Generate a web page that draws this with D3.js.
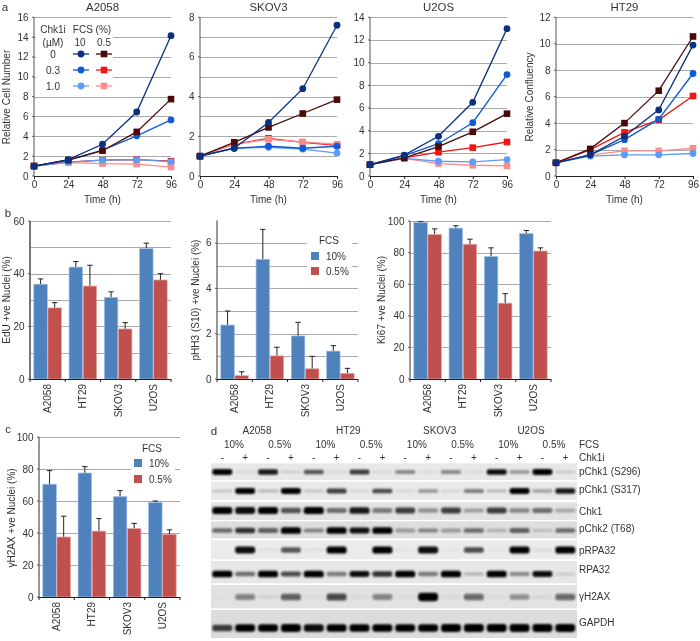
<!DOCTYPE html>
<html><head><meta charset="utf-8">
<script src="https://cdn.jsdelivr.net/npm/d3@7"></script>
<style>html,body{margin:0;padding:0;background:#fff}svg{display:block;filter:blur(0.35px)}text{font-family:"Liberation Sans",Arial,sans-serif;fill:#333}</style>
</head><body><div id="c"></div>
<script>
// ---------- growth curves ----------
const times=[0,24,48,72,96];
const seriesKeys=["red","pink","light","blue","dark","navy"];
const a2058={navy:[1,1.65,3.2,6.45,14.15],blue:[1,1.6,2.6,4.05,5.65],light:[1,1.4,1.6,1.65,1.45],dark:[1,1.6,2.55,4.45,7.75],red:[1,1.4,1.6,1.65,1.5],pink:[1,1.35,1.25,1.2,0.9]};
const skov3={navy:[1,1.4,2.7,4.4,7.6],blue:[1,1.4,1.5,1.4,1.5],light:[1,1.4,1.45,1.35,1.15],dark:[1,1.7,2.45,3.15,3.85],red:[1,1.6,1.9,1.7,1.55],pink:[1,1.6,1.85,1.72,1.6]};
const u2os={navy:[1,1.85,3.5,6.5,13],blue:[1,1.8,2.85,4.7,8.95],light:[1,1.55,1.3,1.25,1.45],dark:[1,1.6,2.6,3.9,5.5],red:[1,1.6,2.1,2.5,3],pink:[1,1.55,1.1,0.95,0.9]};
const ht29={navy:[1,1.6,3,5,9.9],blue:[1,1.6,2.75,4.3,7.75],light:[1,1.5,1.6,1.6,1.7],dark:[1,2.05,4,6.45,10.55],red:[1,2,3.3,4.25,6.05],pink:[1,1.6,1.9,1.9,2.1]};
// ---------- bars ----------
const cellLines=["A2058","HT29","SKOV3","U2OS"];
const edu10=[36,42.5,31,49.5], edu10Top=[38,44.6,33.1,51.6], edu05=[27,35.3,19,37.6], edu05Top=[29,43.2,21.4,40];
const phh10=[2.38,5.28,1.9,1.23], phh10Top=[3,6.6,2.5,1.47], phh05=[0.15,1.02,0.45,0.25], phh05Top=[0.32,1.4,1,0.47];
const ki10=[99,95.5,77.5,92], ki10Top=[99.6,97,83,94], ki05=[91.5,85.3,48,81], ki05Top=[95,88.5,54,83];
const gh10=[70.5,77.5,62.8,59], gh10Top=[79,81.5,66.5,60], gh05=[37.5,41.2,42.8,39.2], gh05Top=[50.5,49,46,42];
// ---------- blot band strengths (0-1) ----------
const blotS296=[.95,.08,.85,.1,.6,.08,.7,.08,.4,.06,.4,.06,.9,.35,1,.12];
const blotS317=[.15,.95,.2,1,.15,.7,.08,.65,.08,.35,.08,.45,.2,1,.3,.85];
const blotChk1=[1,.9,1,.6,1,.5,.85,.45,.7,.35,.7,.3,.7,.4,.5,.25];
const blotChk2=[.5,.75,.55,1,.4,1,.9,1,.3,.4,.3,.5,.2,.55,.15,.5];
const blotPRPA=[0,.9,.05,.6,.05,1,0,1,.03,.9,.03,.65,.03,.95,.08,1];
const blotRPA=[1,.5,1,.65,1,.45,.9,.75,1,.45,1,.2,1,.4,.9,.12];
const blotH2AX=[.02,.4,.06,.55,.03,.65,.04,.4,.03,.95,.04,.5,.03,.35,.05,.5];
const blotGAPDH=[.7,.95,.95,1,.9,.95,.95,.95,.95,.95,1,1,1,1,1,1];
const blotLabels=["pChk1 (S296)","pChk1 (S317)","Chk1","pChk2 (T68)","pRPA32","RPA32","γH2AX","GAPDH"];
const blotRows=[blotS296,blotS317,blotChk1,blotChk2,blotPRPA,blotRPA,blotH2AX,blotGAPDH];
const laneSigns=["-","+","-","+","-","+","-","+","-","+","-","+","-","+","-","+"];
const fcsHeads=["10%","0.5%","10%","0.5%","10%","0.5%","10%","0.5%"];

// ---------- style ----------
const colors={navy:"#0b3080",blue:"#0f5ad6",light:"#5c9cf6",dark:"#4a0a0a",red:"#f41414",pink:"#fb8c8c"};
const barBlue="#4f81bd",barRed="#c0504d",grid="#a9a9a9",FS=10;

const svg=d3.select("#c").append("svg").attr("width",700).attr("height",641);
const defs=svg.append("defs");
defs.append("filter").attr("id","b").attr("x","-30%").attr("y","-100%").attr("width","160%").attr("height","300%").append("feGaussianBlur").attr("stdDeviation",1.3);
const txt=(x,y,s,o={})=>svg.append("text").attr("x",x).attr("y",y).attr("text-anchor",o.a||"middle").attr("dominant-baseline","central").attr("font-size",o.fs||FS).text(s);
const vtxt=(x,y,s)=>svg.append("text").attr("transform",`translate(${x},${y}) rotate(-90)`).attr("text-anchor","middle").attr("dominant-baseline","central").attr("font-size",FS).text(s);

function yAxis(g,y,x0,x1,vals,labels,axisW,axisCol){
  g.selectAll("line.g").data(vals).join("line").attr("class","g").attr("x1",x0).attr("x2",x1).attr("y1",d=>Math.round(y(d))+.5).attr("y2",d=>Math.round(y(d))+.5).attr("stroke",grid);
  g.append("line").attr("x1",x0).attr("x2",x0).attr("y1",y.range()[1]).attr("y2",y.range()[0]).attr("stroke",axisCol).attr("stroke-width",axisW);
  g.selectAll("text.t").data(labels).join("text").attr("class","t").attr("x",x0-5.5).attr("y",d=>y(d)).attr("text-anchor","end").attr("dominant-baseline","central").attr("font-size",FS).text(d=>d);
  g.selectAll("line.tk").data(labels).join("line").attr("class","tk").attr("x1",x0-2).attr("x2",x0).attr("y1",d=>y(d)).attr("y2",d=>y(d)).attr("stroke","#555");
}
function marker(g,key,x,y){
  if(["navy","blue","light"].includes(key)) g.append("circle").attr("cx",x).attr("cy",y).attr("r",3.4).attr("fill",colors[key]);
  else g.append("rect").attr("x",x-3.3).attr("y",y-3.3).attr("width",6.6).attr("height",6.6).attr("fill",colors[key]);
}
function lineChart(data,title,x0,x1,ymax,step,ytitle,ytitleX){
  const g=svg.append("g");
  const x=d3.scaleLinear().domain([0,96]).range([x0,x1]);
  const y=d3.scaleLinear().domain([0,ymax]).range([176,17.3]);
  yAxis(g,y,x0,x1,d3.range(step,ymax+.01,step),d3.range(0,ymax+.01,step),1,"#555");
  const ax=g.append("g").attr("transform","translate(0,176)").call(d3.axisBottom(x).tickValues(times).tickSize(3).tickPadding(2));
  ax.selectAll("text").attr("font-size",FS).attr("font-family",null);
  ax.selectAll("line,path").attr("stroke","#222");
  const line=d3.line().x((d,i)=>x(times[i])).y(d=>y(d));
  seriesKeys.forEach(k=>{
    const s=g.append("g");
    s.append("path").attr("d",line(data[k])).attr("fill","none").attr("stroke",colors[k]).attr("stroke-width",1.3);
    data[k].forEach((v,i)=>marker(s,k,x(times[i]),y(v)));
  });
  txt((x0+x1)/2,7,title,{fs:11.4});
  txt((x0+x1)/2,199,"Time (h)");
  if(ytitle) vtxt(ytitleX,97,ytitle);
}
lineChart(a2058,"A2058",34,171,16,2,"Relative Cell Number",6);
lineChart(skov3,"SKOV3",200,337,8,2,null);
lineChart(u2os,"U2OS",370,507,14,2,null);
lineChart(ht29,"HT29",556,693,12,2,"Relative Confluency",529);
// extra SKOV3 half-grid lines are drawn under the marks
(function(){const y=d3.scaleLinear().domain([0,8]).range([176,17.3]);
 svg.insert("g","g").selectAll("line").data([1,3,5,7]).join("line").attr("x1",200).attr("x2",337).attr("y1",d=>Math.round(y(d))+.5).attr("y2",d=>Math.round(y(d))+.5).attr("stroke",grid);})();

// legend panel a
svg.append("rect").attr("x",36).attr("y",23).attr("width",77).attr("height",70).attr("fill","#fff");
txt(53,29,"Chk1i");txt(53,42,"(µM)");txt(92,29,"FCS (%)");txt(80,42,"10");txt(104,42,"0.5");
const legendDoses=["0","0.3","1.0"],legC=["navy","blue","light"],legS=["dark","red","pink"];
const legY=d3.scalePoint().domain(legendDoses).range([54,86]);
legendDoses.forEach((d,i)=>{
  txt(53,legY(d),d);
  [[legC[i],81],[legS[i],104]].forEach(([k,cx])=>{
    svg.append("line").attr("x1",cx-8).attr("x2",cx+8).attr("y1",legY(d)).attr("y2",legY(d)).attr("stroke",colors[k]).attr("stroke-width",1.3);
    marker(svg,k,cx,legY(d));
  });
});

function barChart(v10,t10,v05,t05,x0,x1,y0,y1,ymax,gridVals,labVals,title,titleX,titleY,axisW,axisCol){
  const g=svg.append("g");
  const y=d3.scaleLinear().domain([0,ymax]).range([y0,y1]);
  yAxis(g,y,x0,x1,gridVals,labVals,axisW,axisCol);
  const xb=d3.scaleBand().domain(cellLines).range([x0,x1]).paddingInner(.2).paddingOuter(.1);
  const sub=d3.scaleBand().domain(["a","b"]).range([0,xb.bandwidth()]);
  [["a",v10,t10,barBlue,"#9fc0e8"],["b",v05,t05,barRed,"#e6a9a7"]].forEach(([k,vals,tops,col,edge])=>{
    cellLines.forEach((c,i)=>{
      const bx=xb(c)+sub(k),w=sub.bandwidth(),cx=bx+w/2;
      g.append("line").attr("x1",cx).attr("x2",cx).attr("y1",y(vals[i])).attr("y2",y(tops[i])).attr("stroke","#222");
      g.append("line").attr("x1",cx-2.7).attr("x2",cx+2.7).attr("y1",y(tops[i])).attr("y2",y(tops[i])).attr("stroke","#222");
      g.append("rect").attr("x",bx+.3).attr("y",y(vals[i])).attr("width",w-.6).attr("height",y(0)-y(vals[i])).attr("fill",col).attr("stroke",edge).attr("stroke-width",.7);
    });
  });
  g.append("line").attr("x1",x0).attr("x2",x1).attr("y1",y0+.5).attr("y2",y0+.5).attr("stroke","#222");
  const step=(x1-x0)/4;
  d3.range(0,5).forEach(i=>g.append("line").attr("x1",x0+i*step).attr("x2",x0+i*step).attr("y1",y0).attr("y2",y0+3).attr("stroke","#222"));
  cellLines.forEach(c=>g.append("text").attr("transform",`translate(${xb(c)+xb.bandwidth()/2},${y0+5}) rotate(-90)`).attr("text-anchor","end").attr("dominant-baseline","central").attr("font-size",FS).text(c));
  vtxt(titleX,titleY,title);
  return g;
}
function fcsLegend(bx,by,bw,bh,cx,sx,sy1,sy2,tx,ty){
  svg.append("rect").attr("x",bx).attr("y",by).attr("width",bw).attr("height",bh).attr("fill","#fff");
  txt(cx,ty,"FCS");
  [[sy1,barBlue,"10%"],[sy2,barRed,"0.5%"]].forEach(([sy,c,t])=>{
    svg.append("rect").attr("x",sx).attr("y",sy).attr("width",8).attr("height",8).attr("fill",c);
    txt(tx,sy+4,t,{a:"start"});
  });
}
barChart(edu10,edu10Top,edu05,edu05Top,30,171,379,221,60,d3.range(10,61,10),[0,20,40,60],"EdU +ve Nuclei (%)",6,300,2,"#777");
barChart(phh10,phh10Top,phh05,phh05Top,217,358,379,220.3,7,d3.range(1,7),[0,2,4,6],"pHH3 (S10) +ve Nuclei (%)",195,300,1,"#333");
barChart(ki10,ki10Top,ki05,ki05Top,410,551,379,221,100,d3.range(20,101,20),[0,20,40,60,80,100],"Ki67 +ve Nuclei (%)",381,300,1.5,"#777");
barChart(gh10,gh10Top,gh05,gh05Top,39,180,597,437,100,d3.range(20,101,20),[0,20,40,60,80,100],"γH2AX +ve Nuclei (%)",11,518,1,"#333");
fcsLegend(307,232,45,47,329,311,252,267,326,240);
fcsLegend(131,442,44,44,152,134,459,475,149,448);

// panel letters
txt(5,7,"a",{fs:11.5});txt(8,213,"b",{fs:11.5});txt(8,429,"c",{fs:11.5});txt(214,431,"d",{fs:11.5});

// ---------- western blot ----------
const laneIdx=d3.range(16);
const laneX=d3.scalePoint().domain(laneIdx).range([222.3,565.3]);
const rowIdx=d3.range(8);
const rowTop=d3.scaleOrdinal(rowIdx,[463.3,481.7,502.3,521.3,540.3,561,585,610]);
const rowH=d3.scaleOrdinal(rowIdx,[16.7,18.3,17.7,17,19,22.3,23.3,28]);
const bandY=d3.scaleOrdinal(rowIdx,[472,491,510.5,530.5,550,574,597,628]);
const labelY=d3.scaleOrdinal(rowIdx,[471,489,511,528,550,569,596,622]);
const bandScale=d3.scaleOrdinal(rowIdx,[1,1,1.2,1.1,1.2,1.1,1.5,1.3]);
const rowBg=d3.scaleOrdinal(rowIdx,["#e8e8e8","#e9e9e9","#e2e2e2","#dedede","#ebebeb","#e7e7e7","#e2e2e2","#dcdcdc"]);
const blot=svg.append("g");
rowIdx.forEach(r=>{
  blot.append("rect").attr("x",211).attr("y",rowTop(r)).attr("width",366).attr("height",rowH(r)).attr("fill",rowBg(r));
  const g=blot.append("g").attr("filter","url(#b)");
  blotRows[r].forEach((v,i)=>{
    const h=(2.4+3.6*v)*bandScale(r);
    g.append("rect").attr("x",laneX(i)-10).attr("y",bandY(r)-h/2).attr("width",20).attr("height",h).attr("rx",h/2.5).attr("fill","#000").attr("opacity",Math.min(1,v*1.05));
  });
  txt(579,labelY(r),blotLabels[r],{a:"start"});
});
laneSigns.forEach((s,i)=>txt(laneX(i),457,s));
const headX=d3.scalePoint().domain(d3.range(8)).range([234,554]);
fcsHeads.forEach((h,i)=>txt(headX(i),444,h));
const lineX=d3.scalePoint().domain(cellLines).range([257,531]);
cellLines.forEach(c=>txt(lineX(c),430,c));
txt(579,444,"FCS",{a:"start"});txt(579,457,"Chk1i",{a:"start"});
</script></body></html>
